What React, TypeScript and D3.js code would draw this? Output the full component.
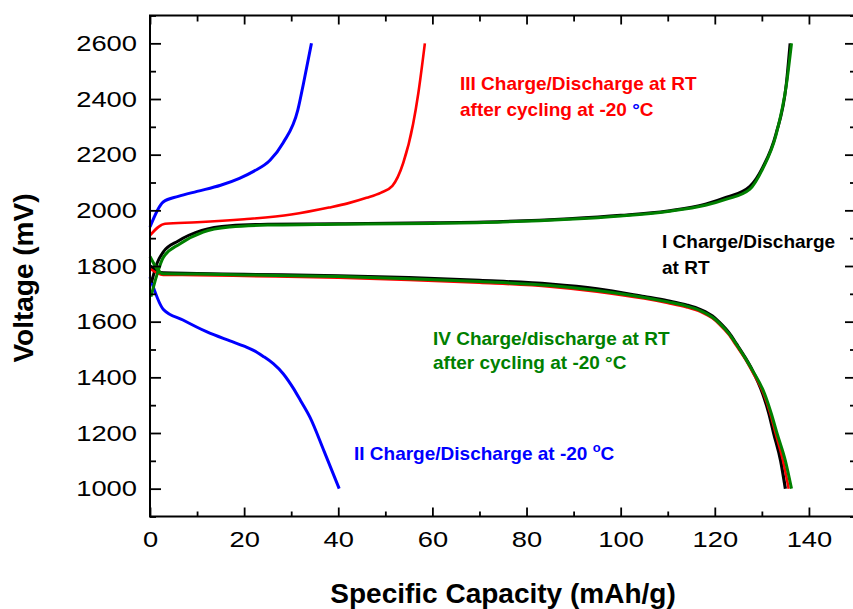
import React, { useEffect, useRef } from 'react';
import * as d3 from 'd3';

type Pt = [number, number];

// capacity (mAh/g), voltage (mV)
const blueCharge: Pt[] = [[0, 1940], [2.8, 2030], [6, 2050], [10, 2068], [15, 2090], [19, 2115], [22, 2140], [25.5, 2180], [28.3, 2243], [31.4, 2360], [32.6, 2455], [34.3, 2600]];
const blueDischarge: Pt[] = [[0, 1760], [2.8, 1645], [7, 1606], [12, 1564], [17, 1531], [20, 1512], [22, 1497], [24, 1476], [26.2, 1449], [28.3, 1413], [30.4, 1362], [32, 1316], [34, 1256], [37, 1134], [40.2, 1000]];
const redCharge: Pt[] = [[0, 1910], [3.2, 1952], [10, 1957], [20, 1968], [30, 1985], [38, 2010], [42, 2025], [46, 2045], [49, 2063], [51.5, 2088], [53.8, 2170], [55.9, 2310], [57, 2420], [58.4, 2600]];
const redDischarge: Pt[] = [[0, 1790], [2.8, 1768], [10, 1767], [20, 1764], [40, 1758], [55, 1750], [70, 1740], [85, 1726], [95, 1708], [105, 1683], [110, 1667], [114, 1652], [117, 1635], [119.5, 1612], [121, 1590], [123, 1553], [124.6, 1513], [126.5, 1465], [128, 1420], [130.4, 1340], [131.8, 1270], [132.9, 1200], [134.5, 1100], [135.7, 1000]];
const blackCharge: Pt[] = [[0.3, 1740], [1.5, 1810], [2.8, 1850], [6, 1890], [11, 1928], [17, 1945], [25, 1950], [40, 1952], [60, 1955], [75, 1960], [89, 1970], [100, 1982], [110, 1998], [118, 2022], [122.5, 2047], [127.4, 2085], [130.2, 2155], [133, 2275], [135.2, 2455], [136, 2600]];
const blackDischarge: Pt[] = [[0, 1800], [2.8, 1775], [10, 1773], [20, 1770], [40, 1765], [55, 1758], [70, 1748], [85, 1735], [95, 1718], [105, 1690], [110, 1675], [114, 1660], [117, 1643], [119.5, 1620], [121, 1597], [123, 1560], [124.6, 1520], [126.5, 1470], [128, 1425], [130.2, 1340], [131.5, 1270], [132.5, 1200], [134, 1100], [135, 1000]];
const greenCharge: Pt[] = [[0.2, 1690], [1.5, 1770], [2.8, 1830], [6.4, 1880], [11.3, 1922], [17, 1940], [25, 1947], [40, 1950], [60, 1953], [75, 1958], [89, 1968], [100, 1980], [110, 1996], [118, 2018], [122.5, 2040], [127.4, 2075], [130.2, 2150], [133, 2270], [135.2, 2450], [136.3, 2600]];
const greenDischarge: Pt[] = [[0, 1834], [2.8, 1772], [10, 1771], [20, 1768], [40, 1762], [55, 1754], [70, 1744], [85, 1730], [95, 1712], [105, 1687], [110, 1671], [114, 1656], [117, 1639], [119.5, 1616], [121, 1594], [123, 1557], [124.6, 1518], [126.5, 1468], [128, 1425], [130.6, 1340], [132, 1270], [133.2, 1200], [135, 1100], [136.3, 1000]];

const xMajor = [0, 20, 40, 60, 80, 100, 120, 140];
const xMinor = [10, 30, 50, 70, 90, 110, 130, 150];
const yMajor = [1000, 1200, 1400, 1600, 1800, 2000, 2200, 2400, 2600];
const yMinor = [900, 1100, 1300, 1500, 1700, 1900, 2100, 2300, 2500, 2700];

const series = [
  { data: blueCharge, color: '#0000ff', w: 3 },
  { data: blueDischarge, color: '#0000ff', w: 3 },
  { data: blackCharge, color: '#000000', w: 3 },
  { data: blackDischarge, color: '#000000', w: 3.2 },
  { data: redCharge, color: '#ff0000', w: 2.6 },
  { data: redDischarge, color: '#ff0000', w: 2.6 },
  { data: greenCharge, color: '#008000', w: 3 },
  { data: greenDischarge, color: '#008000', w: 3 },
];

const FONT = '"Liberation Sans", Arial, sans-serif';

const App: React.FC = () => {
  const svgRef = useRef<SVGSVGElement>(null);

  useEffect(() => {
    const svg = d3.select(svgRef.current!);
    svg.selectAll('*').remove();

    const left = 150, right = 856, top = 15.5, bottom = 516.5;
    const x = d3.scaleLinear().domain([0, 150]).range([left, right]);
    const y = d3.scaleLinear().domain([900, 2700]).range([bottom, top]);

    // curves
    const line = d3
      .line<Pt>()
      .x((d) => x(d[0]))
      .y((d) => y(d[1]))
      .curve(d3.curveMonotoneX);

    series.forEach((s) => {
      svg
        .append('path')
        .attr('d', line(s.data))
        .attr('fill', 'none')
        .attr('stroke', s.color)
        .attr('stroke-width', s.w)
        .attr('stroke-linejoin', 'round');
    });

    // axes (ticks pointing inward), tick labels are drawn a bit wide like the original
    const styleAxis = (g: d3.Selection<SVGGElement, unknown, null, undefined>) => {
      g.select('.domain').remove();
      g.selectAll('line').attr('stroke', '#000').attr('stroke-width', 1.8);
      g.selectAll<SVGTextElement, unknown>('text')
        .attr('font-family', FONT)
        .attr('font-size', 22)
        .attr('fill', '#000')
        .each(function () {
          const n = (this.textContent || '').length;
          if (n > 0) {
            d3.select(this).attr('textLength', n * 15.2).attr('lengthAdjust', 'spacingAndGlyphs');
          }
        });
    };

    svg.append('g').attr('transform', `translate(${left},0)`)
      .call(d3.axisLeft(y).tickValues(yMajor).tickSize(-11).tickPadding(13).tickFormat(d3.format('d')))
      .call(styleAxis);
    svg.append('g').attr('transform', `translate(${left},0)`)
      .call(d3.axisLeft(y).tickValues(yMinor).tickSize(-6).tickFormat(() => ''))
      .call(styleAxis);
    svg.append('g').attr('transform', `translate(${right},0)`)
      .call(d3.axisRight(y).tickValues(yMajor).tickSize(-11).tickFormat(() => ''))
      .call(styleAxis);
    svg.append('g').attr('transform', `translate(${right},0)`)
      .call(d3.axisRight(y).tickValues(yMinor).tickSize(-6).tickFormat(() => ''))
      .call(styleAxis);

    svg.append('g').attr('transform', `translate(0,${bottom})`)
      .call(d3.axisBottom(x).tickValues(xMajor).tickSize(-9).tickPadding(14.5).tickFormat(d3.format('d')))
      .call(styleAxis);
    svg.append('g').attr('transform', `translate(0,${bottom})`)
      .call(d3.axisBottom(x).tickValues(xMinor).tickSize(-5).tickFormat(() => ''))
      .call(styleAxis);
    svg.append('g').attr('transform', `translate(0,${top})`)
      .call(d3.axisTop(x).tickValues(xMajor).tickSize(-9).tickFormat(() => ''))
      .call(styleAxis);
    svg.append('g').attr('transform', `translate(0,${top})`)
      .call(d3.axisTop(x).tickValues(xMinor).tickSize(-6).tickFormat(() => ''))
      .call(styleAxis);

    // frame
    svg.append('rect')
      .attr('x', left).attr('y', top)
      .attr('width', right - left).attr('height', bottom - top)
      .attr('fill', 'none').attr('stroke', '#000').attr('stroke-width', 2);

    // axis titles
    svg.append('text')
      .attr('transform', 'translate(33,278) rotate(-90)')
      .attr('text-anchor', 'middle')
      .attr('font-family', FONT).attr('font-weight', 'bold').attr('font-size', 28)
      .text('Voltage (mV)');
    svg.append('text')
      .attr('x', 503).attr('y', 603)
      .attr('text-anchor', 'middle')
      .attr('font-family', FONT).attr('font-weight', 'bold').attr('font-size', 28)
      .text('Specific Capacity (mAh/g)');

    // annotations
    const note = (tx: number, ty: number, color: string) =>
      svg.append('text')
        .attr('x', tx).attr('y', ty)
        .attr('font-family', FONT).attr('font-weight', 'bold').attr('font-size', 19)
        .attr('fill', color);

    note(460, 90, '#ff0000').text('III Charge/Discharge at RT');
    const t3 = note(460, 116, '#ff0000');
    t3.append('tspan').text('after cycling at -20 ');
    t3.append('tspan').attr('fill', '#0000ff').text('°');
    t3.append('tspan').text('C');

    note(662, 248, '#000000').text('I Charge/Discharge');
    note(662, 274, '#000000').text('at RT');

    note(433, 345, '#008000').text('IV Charge/discharge at RT');
    note(433, 369, '#008000').text('after cycling at -20 °C');

    const t2 = note(354, 460, '#0000ff');
    t2.append('tspan').text('II Charge/Discharge at -20 ');
    t2.append('tspan').attr('font-size', 13).attr('dy', -8).text('o');
    t2.append('tspan').attr('dy', 8).text('C');
  }, []);

  return (
    <svg
      ref={svgRef}
      width={853}
      height={609}
      style={{ position: 'absolute', left: 0, top: 0, background: '#fff' }}
    />
  );
};

export default App;
